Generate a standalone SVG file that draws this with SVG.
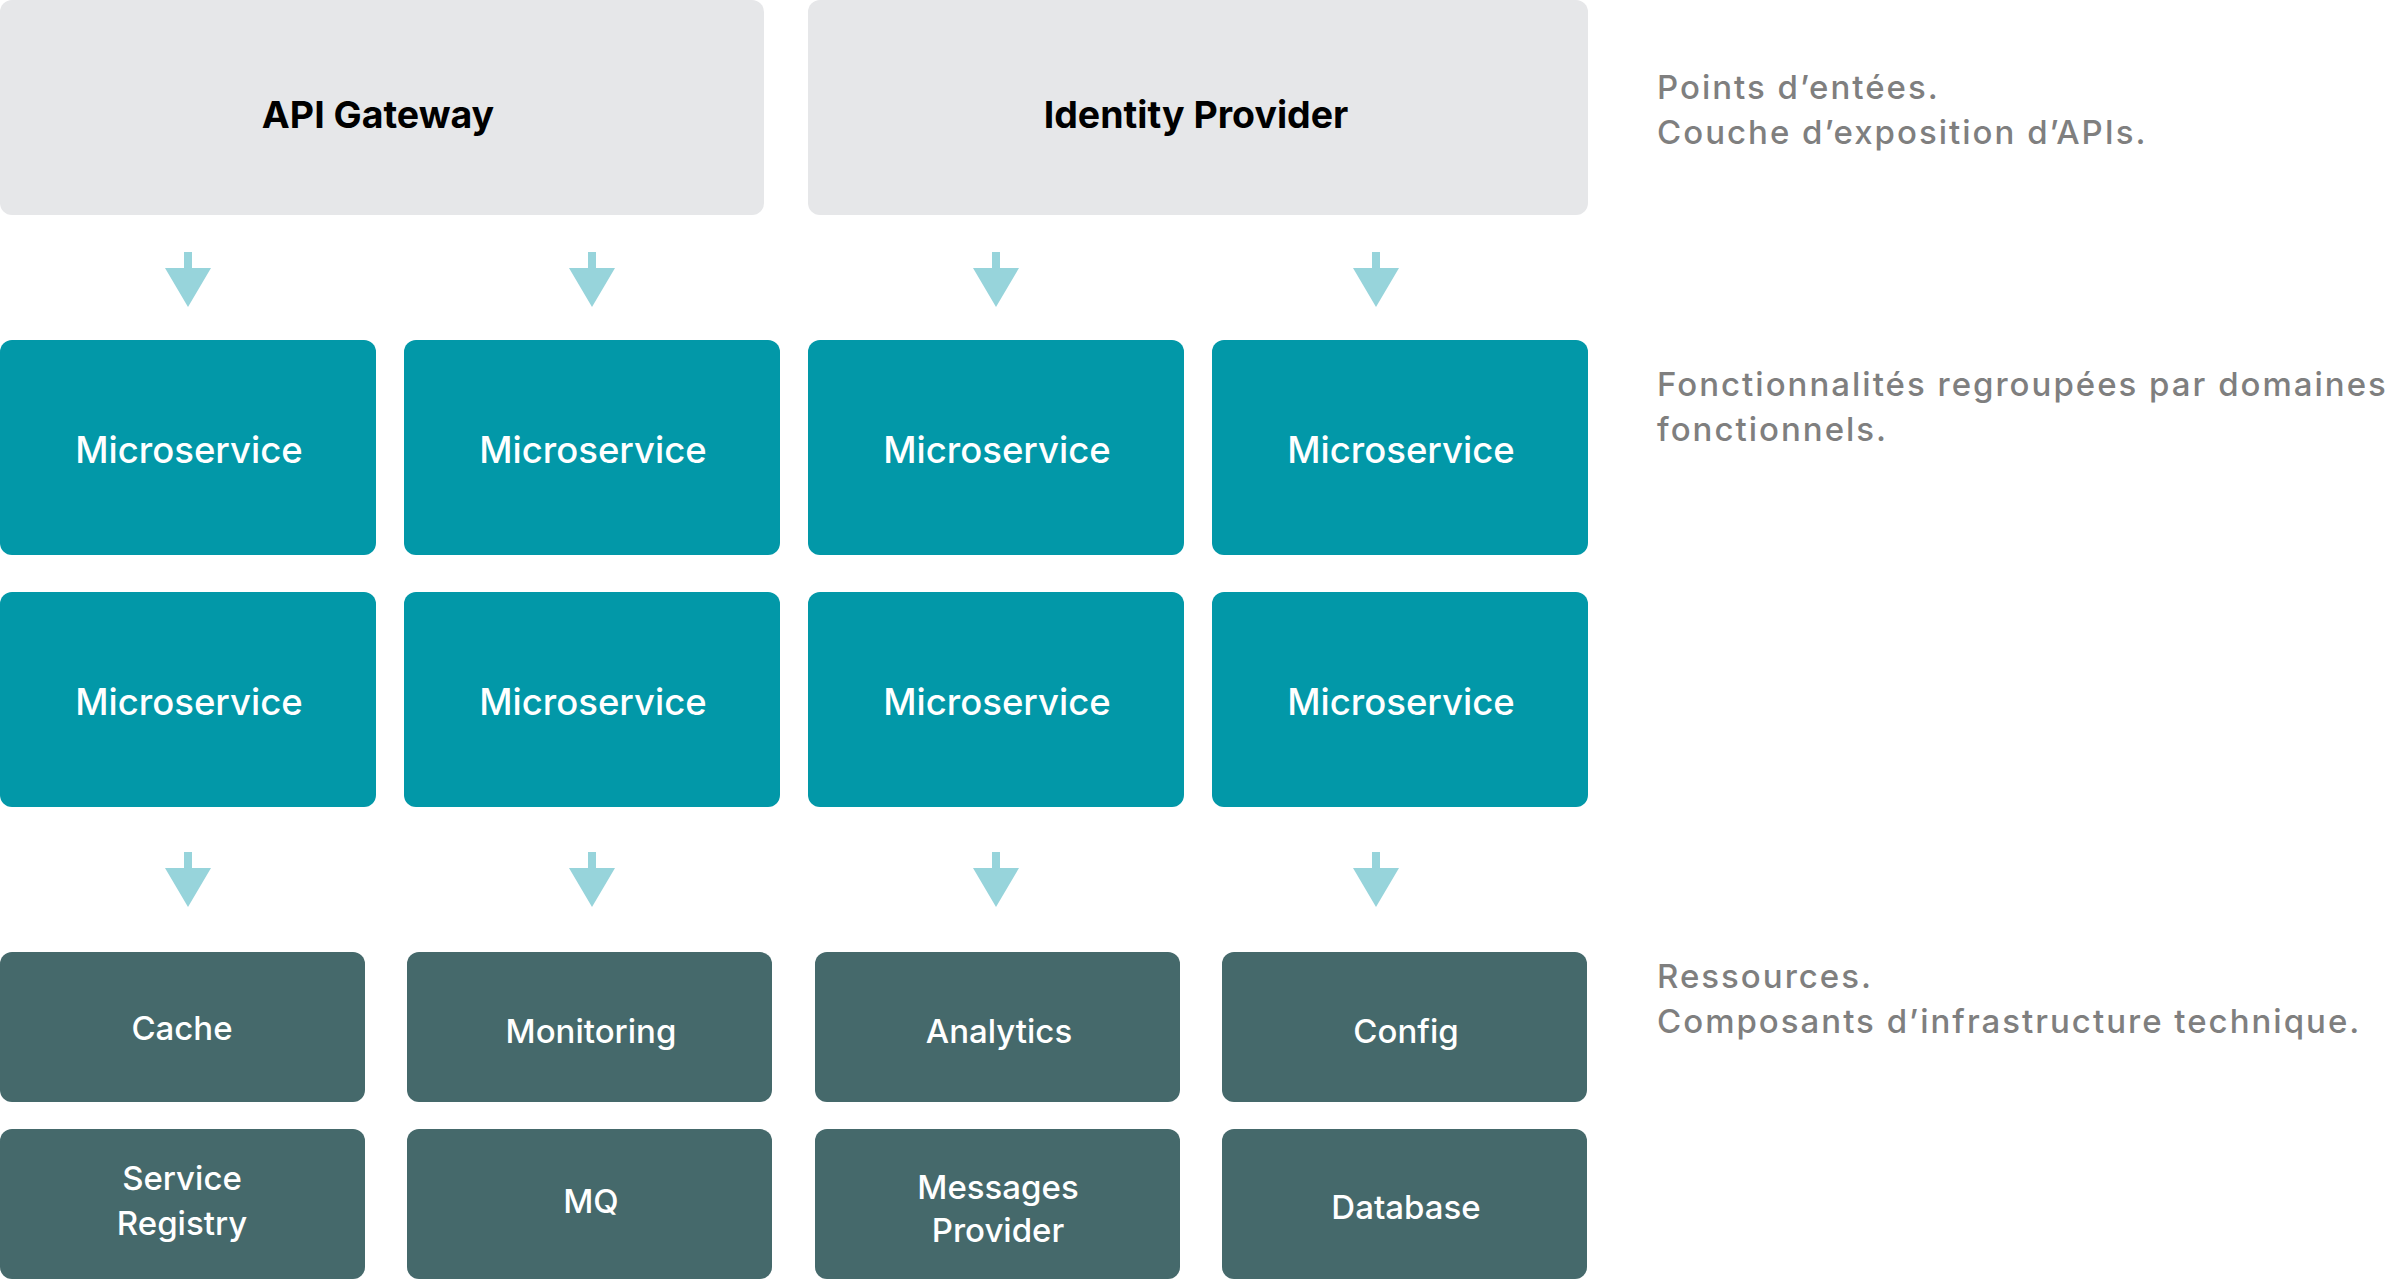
<svg xmlns="http://www.w3.org/2000/svg" width="2392" height="1280" viewBox="0 0 2392 1280">
  <style>
    .gw { fill: #E6E7E9; }
    .ms { fill: #0298A8; }
    .rs { fill: #45696B; }
    .arrow { fill: #97D4DB; }
    .gwt { font-family: Inter, "Liberation Sans", sans-serif; font-weight: 700; font-size: 37.5px; fill: #000000; text-anchor: middle; }
    .mst { font-family: Inter, "Liberation Sans", sans-serif; font-weight: 500; font-size: 36.5px; fill: #FFFFFF; text-anchor: middle; }
    .rst { font-family: Inter, "Liberation Sans", sans-serif; font-weight: 500; font-size: 33px; fill: #FFFFFF; text-anchor: middle; }
    .side { font-family: Inter, "Liberation Sans", sans-serif; font-weight: 500; font-size: 33px; letter-spacing: 2px; fill: #7F7F7F; }
  </style>
  <defs>
    <path id="arr" class="arrow" d="M -4 0 L 4 0 L 4 16 L 23 16 L 0 55 L -23 16 L -4 16 Z"/>
  </defs>
  <rect width="2392" height="1280" fill="#FFFFFF"/>

  <g id="api-gateway">
    <rect class="gw" x="0" y="0" width="764" height="215" rx="12"/>
    <text class="gwt" x="378" y="128">API Gateway</text>
  </g>
  <g id="identity-provider">
    <rect class="gw" x="808" y="0" width="780" height="215" rx="12"/>
    <text class="gwt" x="1196" y="128">Identity Provider</text>
  </g>

  <g id="ms-1-1"><rect class="ms" x="0" y="340" width="376" height="215" rx="12"/><text class="mst" x="189" y="463">Microservice</text></g>
  <g id="ms-1-2"><rect class="ms" x="404" y="340" width="376" height="215" rx="12"/><text class="mst" x="593" y="463">Microservice</text></g>
  <g id="ms-1-3"><rect class="ms" x="808" y="340" width="376" height="215" rx="12"/><text class="mst" x="997" y="463">Microservice</text></g>
  <g id="ms-1-4"><rect class="ms" x="1212" y="340" width="376" height="215" rx="12"/><text class="mst" x="1401" y="463">Microservice</text></g>
  <g id="ms-2-1"><rect class="ms" x="0" y="592" width="376" height="215" rx="12"/><text class="mst" x="189" y="715">Microservice</text></g>
  <g id="ms-2-2"><rect class="ms" x="404" y="592" width="376" height="215" rx="12"/><text class="mst" x="593" y="715">Microservice</text></g>
  <g id="ms-2-3"><rect class="ms" x="808" y="592" width="376" height="215" rx="12"/><text class="mst" x="997" y="715">Microservice</text></g>
  <g id="ms-2-4"><rect class="ms" x="1212" y="592" width="376" height="215" rx="12"/><text class="mst" x="1401" y="715">Microservice</text></g>

  <g id="cache"><rect class="rs" x="0" y="952" width="365" height="150" rx="12"/><text class="rst" x="182" y="1040">Cache</text></g>
  <g id="monitoring"><rect class="rs" x="407" y="952" width="365" height="150" rx="12"/><text class="rst" x="591" y="1043">Monitoring</text></g>
  <g id="analytics"><rect class="rs" x="815" y="952" width="365" height="150" rx="12"/><text class="rst" x="999" y="1043">Analytics</text></g>
  <g id="config"><rect class="rs" x="1222" y="952" width="365" height="150" rx="12"/><text class="rst" x="1406" y="1043">Config</text></g>
  <g id="service-registry"><rect class="rs" x="0" y="1129" width="365" height="150" rx="12"/><text class="rst" x="182" y="1190">Service</text><text class="rst" x="182" y="1235">Registry</text></g>
  <g id="mq"><rect class="rs" x="407" y="1129" width="365" height="150" rx="12"/><text class="rst" x="591" y="1213">MQ</text></g>
  <g id="messages-provider"><rect class="rs" x="815" y="1129" width="365" height="150" rx="12"/><text class="rst" x="998" y="1199">Messages</text><text class="rst" x="998" y="1242">Provider</text></g>
  <g id="database"><rect class="rs" x="1222" y="1129" width="365" height="150" rx="12"/><text class="rst" x="1406" y="1219">Database</text></g>

  <g id="connectors">
    <use href="#arr" x="188" y="252"/>
    <use href="#arr" x="592" y="252"/>
    <use href="#arr" x="996" y="252"/>
    <use href="#arr" x="1376" y="252"/>
    <use href="#arr" x="188" y="852"/>
    <use href="#arr" x="592" y="852"/>
    <use href="#arr" x="996" y="852"/>
    <use href="#arr" x="1376" y="852"/>
  </g>

  <g id="annotations">
    <text class="side" x="1657" y="99">Points d’entées.</text>
    <text class="side" x="1657" y="144">Couche d’exposition d’APIs.</text>
    <text class="side" x="1657" y="396">Fonctionnalités regroupées par domaines</text>
    <text class="side" x="1657" y="441">fonctionnels.</text>
    <text class="side" x="1657" y="988">Ressources.</text>
    <text class="side" x="1657" y="1033">Composants d’infrastructure technique.</text>
  </g>
</svg>
